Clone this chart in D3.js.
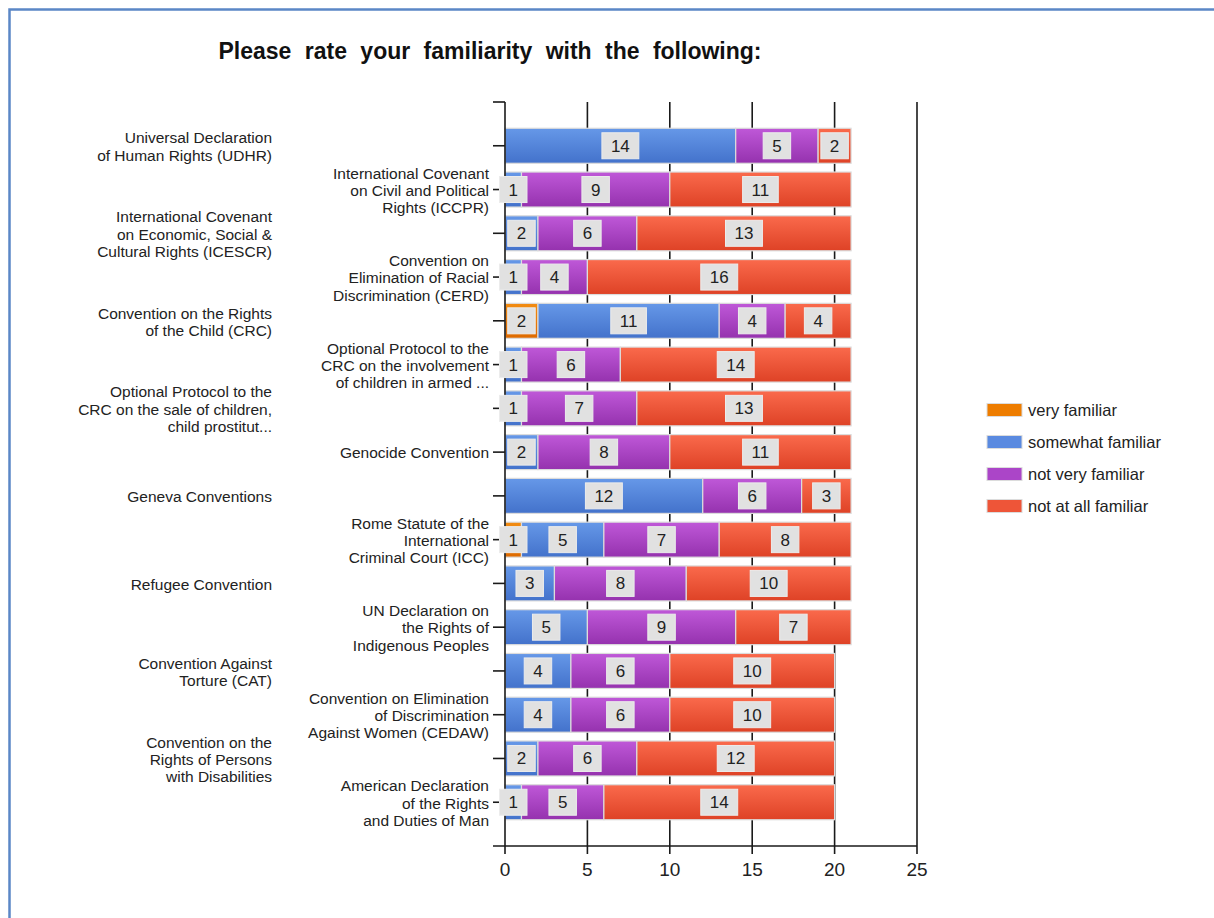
<!DOCTYPE html>
<html><head><meta charset="utf-8">
<script src="https://cdn.jsdelivr.net/npm/d3@7/dist/d3.min.js"></script>
<style>body{margin:0;background:#fff;} svg{display:block;font-family:"Liberation Sans",Arial,sans-serif;}</style>
</head><body>
<script>
const categories = [
  "Universal Declaration|of Human Rights (UDHR)",
  "International Covenant|on Civil and Political|Rights (ICCPR)",
  "International Covenant|on Economic, Social &|Cultural Rights (ICESCR)",
  "Convention on|Elimination of Racial|Discrimination (CERD)",
  "Convention on the Rights|of the Child (CRC)",
  "Optional Protocol to the|CRC on the involvement|of children in armed ...",
  "Optional Protocol to the|CRC on the sale of children,|child prostitut...",
  "Genocide Convention",
  "Geneva Conventions",
  "Rome Statute of the|International|Criminal Court (ICC)",
  "Refugee Convention",
  "UN Declaration on|the Rights of|Indigenous Peoples",
  "Convention Against|Torture (CAT)",
  "Convention on Elimination|of Discrimination|Against Women (CEDAW)",
  "Convention on the|Rights of Persons|with Disabilities",
  "American Declaration|of the Rights|and Duties of Man"
];
const seriesNames = ["very familiar","somewhat familiar","not very familiar","not at all familiar"];
const veryFamiliar      = [0, 0, 0, 0, 2, 0, 0, 0, 0, 1, 0, 0, 0, 0, 0, 0];
const somewhatFamiliar  = [14,1, 2, 1,11, 1, 1, 2,12, 5, 3, 5, 4, 4, 2, 1];
const notVeryFamiliar   = [5, 9, 6, 4, 4, 6, 7, 8, 6, 7, 8, 9, 6, 6, 6, 5];
const notAtAllFamiliar  = [2,11,13,16, 4,14,13,11, 3, 8,10, 7,10,10,12,14];
const xTicks = [0,5,10,15,20,25];
const title = "Please rate your familiarity with the following:";

const seriesValues = [veryFamiliar, somewhatFamiliar, notVeryFamiliar, notAtAllFamiliar];
const gradStops = [["#f28c12","#de6a00"],["#6698e8","#4372cb"],["#bf58d8","#9532ae"],["#fa6a4c","#de4226"]];
const legendColors = ["#ee7d00","#5a8ae0","#ab45c8","#ee5538"];

const W=1214,H=918;
const svg=d3.select("body").append("svg").attr("width",W).attr("height",H);
const defs=svg.append("defs");
gradStops.forEach((g,i)=>{
  const lg=defs.append("linearGradient").attr("id","g"+i).attr("x1",0).attr("y1",0).attr("x2",0).attr("y2",1);
  lg.append("stop").attr("offset","0%").attr("stop-color",g[0]);
  lg.append("stop").attr("offset","100%").attr("stop-color",g[1]);
});

// frame
svg.append("path").attr("d","M9.5,918V9.5H1214").attr("fill","none").attr("stroke","#5b87c6").attr("stroke-width",2.5);

svg.append("text").attr("x",490).attr("y",59).attr("text-anchor","middle")
  .attr("font-size",23).attr("font-weight","bold").attr("word-spacing",7).attr("fill","#111").text(title);

const x=d3.scaleLinear().domain([0,25]).range([505,917]);
const y=d3.scalePoint().domain(categories).range([102,846]).padding(1);
const barH=35;

// gridlines
svg.append("g").selectAll("line").data(xTicks.slice(1)).join("line")
  .attr("x1",d=>x(d)).attr("x2",d=>x(d)).attr("y1",102).attr("y2",846)
  .attr("stroke","#1a1a1a").attr("stroke-width",1.6);

// stacks
const rows=categories.map((c,i)=>{const o={cat:c};seriesNames.forEach((s,j)=>o[s]=seriesValues[j][i]);return o;});
const stack=d3.stack().keys(seriesNames)(rows);
const gBars=svg.append("g");
stack.forEach((layer,j)=>{
  gBars.selectAll(null).data(layer.filter(d=>d[1]-d[0]>0)).join("rect")
    .attr("x",d=>x(d[0])).attr("width",d=>x(d[1])-x(d[0]))
    .attr("y",d=>y(d.data.cat)-barH/2).attr("height",barH)
    .attr("fill",`url(#g${j})`).attr("stroke","#dcdcdc").attr("stroke-width",1.2);
});

// axes
svg.append("line").attr("x1",505).attr("x2",505).attr("y1",102).attr("y2",846).attr("stroke","#1a1a1a").attr("stroke-width",1.6);
svg.append("line").attr("x1",493).attr("x2",917).attr("y1",846).attr("y2",846).attr("stroke","#1a1a1a").attr("stroke-width",1.6);
svg.append("line").attr("x1",493).attr("x2",505).attr("y1",102).attr("y2",102).attr("stroke","#1a1a1a").attr("stroke-width",1.6);
svg.append("g").selectAll("line").data(categories).join("line")
  .attr("x1",493).attr("x2",505).attr("y1",d=>y(d)).attr("y2",d=>y(d)).attr("stroke","#1a1a1a").attr("stroke-width",1.6);
svg.append("g").selectAll("line").data(xTicks).join("line")
  .attr("x1",d=>x(d)).attr("x2",d=>x(d)).attr("y1",846).attr("y2",854).attr("stroke","#1a1a1a").attr("stroke-width",1.6);
svg.append("g").selectAll("text").data(xTicks).join("text")
  .attr("x",d=>x(d)).attr("y",876).attr("text-anchor","middle").attr("font-size",19).attr("fill","#222").text(d=>d);

// category labels
const gl=svg.append("g");
categories.forEach((c,i)=>{
  const lines=c.split("|");
  const xr = i%2===0 ? 272 : 489;
  const t=gl.append("text").attr("text-anchor","end").attr("font-size",15.5).attr("fill","#222");
  lines.forEach((l,k)=>{
    t.append("tspan").attr("x",xr).attr("y",y(c)+(k-(lines.length-1)/2)*17.2+6.3).text(l);
  });
});

// value labels
const gv=svg.append("g");
stack.forEach((layer,j)=>{
  layer.forEach(d=>{
    const v=d[1]-d[0]; if(v<=0) return;
    const cx=(x(d[0])+x(d[1]))/2, cy=y(d.data.cat);
    const t=gv.append("text").attr("x",cx).attr("y",cy+6).attr("text-anchor","middle").attr("font-size",17).attr("fill","#222").text(v);
    const w=t.node().getComputedTextLength()+18;
    gv.insert("rect",()=>t.node()).attr("x",cx-w/2).attr("y",cy-13).attr("width",w).attr("height",26)
      .attr("fill","#e1e1e1").attr("stroke","#ececec").attr("stroke-width",1);
  });
});

// legend
const lgG=svg.append("g");
seriesNames.forEach((s,j)=>{
  const cy=410+j*32;
  lgG.append("rect").attr("x",987).attr("y",cy-6.5).attr("width",35).attr("height",13).attr("fill",legendColors[j]).attr("stroke","#dcdcdc");
  lgG.append("text").attr("x",1028).attr("y",cy+5.5).attr("font-size",16.5).attr("fill","#222").text(s);
});
</script>
</body></html>
